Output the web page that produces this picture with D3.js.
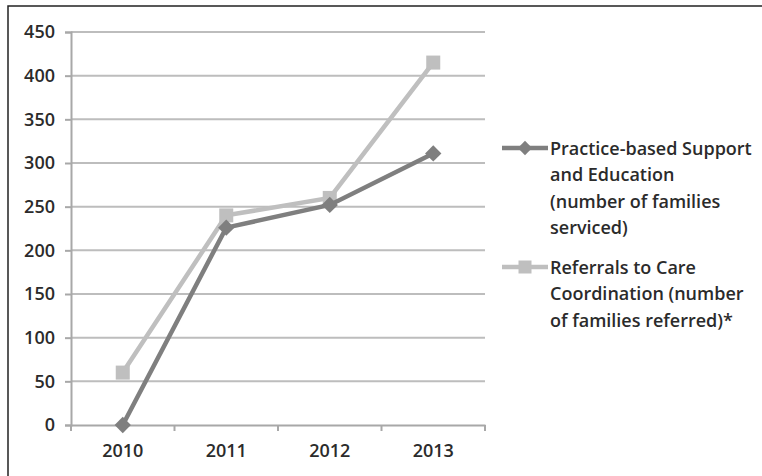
<!DOCTYPE html>
<html>
<head>
<meta charset="utf-8">
<script src="https://cdn.jsdelivr.net/npm/d3@7"></script>
<style>
  body { margin: 0; background: #fff; }
  text { font-family: "Open Sans", "Liberation Sans", sans-serif; }
</style>
</head>
<body>
<svg id="chart" width="762" height="476"></svg>
<script>
const categories = ["2010", "2011", "2012", "2013"];
const practiceSupport = [0, 226, 252, 311];
const referrals = [60, 240, 260, 415];
const yTicks = [0, 50, 100, 150, 200, 250, 300, 350, 400, 450];
const legendPractice = ["Practice-based Support", "and Education", "(number of families", "serviced)"];
const legendReferrals = ["Referrals to Care", "Coordination (number", "of families referred)*"];

const svg = d3.select("#chart");
const W = 762, H = 476;
const FS = 18;

// outer border
svg.append("rect").attr("x", 8).attr("y", 6).attr("width", W + 20).attr("height", H + 20)
  .attr("fill", "#fff").attr("stroke", "#222").attr("stroke-width", 1.5);

const plot = { left: 71, right: 485, top: 32, bottom: 425 };

const x = d3.scaleBand().domain(categories).range([plot.left, plot.right]).padding(0);
const y = d3.scaleLinear().domain([0, 450]).range([plot.bottom, plot.top]);

const g = svg.append("g");

// gridlines
g.selectAll(".grid").data(yTicks.filter(d => d > 0)).enter().append("line")
  .attr("x1", plot.left).attr("x2", plot.right)
  .attr("y1", d => y(d)).attr("y2", d => y(d))
  .attr("stroke", "#bdbdbd").attr("stroke-width", 2);

// y axis
const yAxis = d3.axisLeft(y).tickValues(yTicks).tickSize(6).tickPadding(10);
const yg = g.append("g").attr("transform", `translate(${plot.left},0)`).call(yAxis);
yg.select(".domain").attr("stroke", "#a8a8a8").attr("stroke-width", 2);
yg.selectAll(".tick line").attr("stroke", "#a8a8a8").attr("stroke-width", 2);
yg.selectAll(".tick text").attr("fill", "#2b2b2b").attr("font-size", FS).attr("font-weight", 600)
  .attr("font-family", "'Open Sans', sans-serif");

// x axis
const xAxis = d3.axisBottom(x).tickSize(0).tickPadding(19);
const xg = g.append("g").attr("transform", `translate(0,${plot.bottom})`).call(xAxis);
xg.select(".domain").attr("stroke", "#a8a8a8").attr("stroke-width", 2);
xg.selectAll(".tick text").attr("fill", "#2b2b2b").attr("font-size", FS).attr("font-weight", 600)
  .attr("font-family", "'Open Sans', sans-serif");
// boundary ticks between categories
const bounds = categories.map(c => x(c)).concat([plot.right]);
g.selectAll(".xb").data(bounds).enter().append("line")
  .attr("x1", d => d).attr("x2", d => d)
  .attr("y1", plot.bottom).attr("y2", plot.bottom + 6)
  .attr("stroke", "#a8a8a8").attr("stroke-width", 2);

const cx = c => x(c) + x.bandwidth() / 2;
const line = d3.line().x(d => cx(d.c)).y(d => y(d.v));

const s1 = categories.map((c, i) => ({ c, v: practiceSupport[i] }));
const s2 = categories.map((c, i) => ({ c, v: referrals[i] }));

const dark = "#7f7f7f", light = "#bfbfbf";

// referrals (light) series
g.append("path").datum(s2).attr("d", line).attr("fill", "none")
  .attr("stroke", light).attr("stroke-width", 4.5);
g.selectAll(".sq").data(s2).enter().append("rect")
  .attr("x", d => cx(d.c) - 7).attr("y", d => y(d.v) - 7)
  .attr("width", 14).attr("height", 14).attr("fill", light);

// practice (dark) series
g.append("path").datum(s1).attr("d", line).attr("fill", "none")
  .attr("stroke", dark).attr("stroke-width", 4.5);
const diamond = d3.symbol().type(d3.symbolDiamond2).size(170);
g.selectAll(".dm").data(s1).enter().append("path")
  .attr("d", diamond)
  .attr("transform", d => `translate(${cx(d.c)},${y(d.v)})`)
  .attr("fill", dark);

// legend
const lg = svg.append("g");
function legendItem(y0, color, marker, lines) {
  lg.append("line").attr("x1", 502).attr("x2", 548).attr("y1", y0).attr("y2", y0)
    .attr("stroke", color).attr("stroke-width", 4.5);
  if (marker === "diamond") {
    lg.append("path").attr("d", d3.symbol().type(d3.symbolDiamond2).size(130))
      .attr("transform", `translate(525,${y0})`).attr("fill", color);
  } else {
    lg.append("rect").attr("x", 518.5).attr("y", y0 - 6.5).attr("width", 13).attr("height", 13).attr("fill", color);
  }
  const t = lg.append("text").attr("x", 550).attr("y", y0 + 6.5)
    .attr("fill", "#2b2b2b").attr("font-size", FS).attr("font-weight", 600);
  lines.forEach((l, i) => {
    t.append("tspan").attr("x", 550).attr("dy", i === 0 ? 0 : 26.5).text(l);
  });
}
legendItem(148, dark, "diamond", legendPractice);
legendItem(267, light, "square", legendReferrals);
</script>
</body>
</html>
